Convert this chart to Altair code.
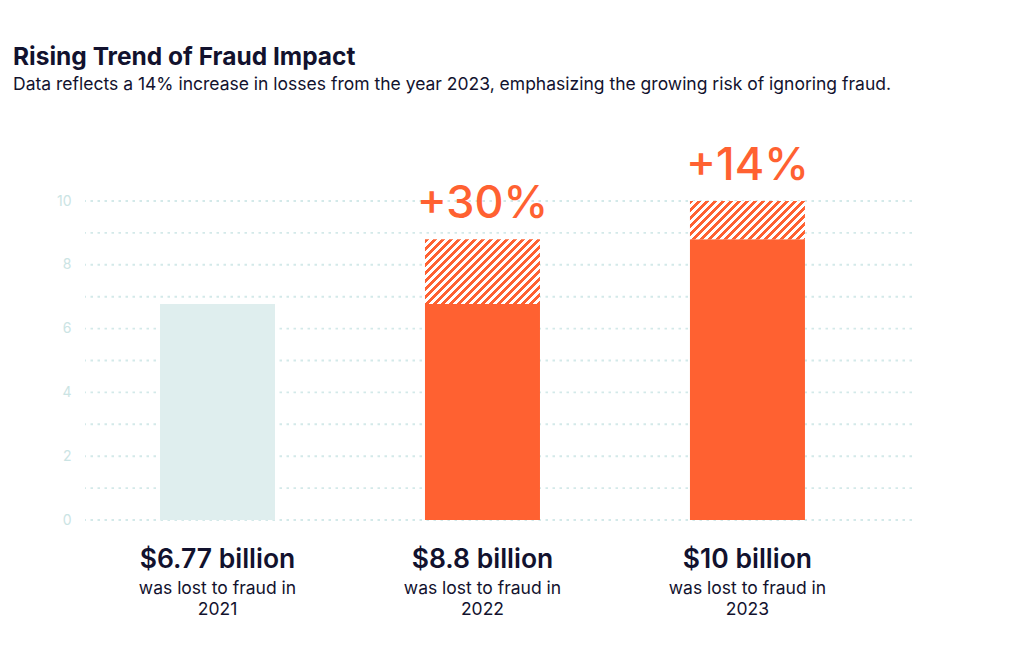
import altair as alt
import pandas as pd

# ---- data ----
years = ["2021", "2022", "2023"]
losses = [6.77, 8.8, 10.0]                      # billions lost to fraud
amount_labels = ["$6.77 billion", "$8.8 billion", "$10 billion"]
caption_lines = ["was lost to fraud in", "was lost to fraud in", "was lost to fraud in"]
growth_labels = ["", "+30%", "+14%"]
y_tick_values = [0, 1, 2, 3, 4, 5, 6, 7, 8, 9, 10]

ORANGE = "#ff6131"
LIGHT = "#dfeeee"
NAVY = "#12122e"
TICK = "#cbe4e4"
GRID = "#d3e9e9"

W, H = 827, 319
Y_MAX = 10
PAD_INNER, PAD_OUTER, ALIGN = 0.566, 0.3435, 0.412

prev = [None] + losses[:-1]
solid_top = [losses[0]] + losses[:-1]
colors = [LIGHT] + [ORANGE] * (len(years) - 1)

df = pd.DataFrame({
    "year": years,
    "loss": losses,
    "prev": prev,
    "solid_top": solid_top,
    "color": colors,
    "amount": amount_labels,
    "caption": caption_lines,
    "growth": growth_labels,
})
grid_df = pd.DataFrame({"v": y_tick_values})

step = W / (len(years) - PAD_INNER + 2 * PAD_OUTER)
band_w = step * (1 - PAD_INNER)
px_per_unit = H / Y_MAX


def stripe_gradient(h_units, period=8.0, frac=0.5):
    """Diagonal '/' stripes as a hard-stop linear gradient for a w x h box."""
    w = band_w
    h = h_units * px_per_unit
    r = h / w
    s = (1 + r) / (1 + r * r)
    p = period / (w + h)
    stops = []
    k = 0
    while k * p < 1:
        a = k * p
        b = min((k + frac) * p, 1.0)
        c = min((k + 1) * p, 1.0)
        stops += [
            alt.GradientStop(offset=a, color=ORANGE),
            alt.GradientStop(offset=b, color=ORANGE),
            alt.GradientStop(offset=b, color="white"),
            alt.GradientStop(offset=c, color="white"),
        ]
        k += 1
    return alt.LinearGradient(gradient="linear", x1=0, y1=0, x2=s, y2=s * r, stops=stops)


x_enc = alt.X(
    "year:N",
    sort=years,
    scale=alt.Scale(paddingInner=PAD_INNER, paddingOuter=PAD_OUTER, align=ALIGN),
    axis=None,
)
y_scale = alt.Scale(domain=[0, Y_MAX], nice=False, zero=True)

grid = alt.Chart(grid_df).mark_rule(
    color=GRID, strokeDash=[2.5, 4.5], strokeWidth=1.9
).encode(
    y=alt.Y(
        "v:Q",
        scale=y_scale,
        title=None,
        axis=alt.Axis(
            values=y_tick_values,
            labelExpr="datum.value % 2 === 0 ? datum.label : ''",
            grid=False,
            domain=False,
            ticks=False,
            tickSize=0,
            labelColor=TICK,
            labelFont="Inter",
            labelFontSize=14,
            labelPadding=14,
        ),
    )
)

base = alt.Chart(df)

solid = base.mark_bar().encode(
    x=x_enc,
    y=alt.Y("solid_top:Q", scale=y_scale),
    color=alt.Color("color:N", scale=None),
)

hatch_layers = []
for i in range(1, len(years)):
    g = stripe_gradient(losses[i] - losses[i - 1])
    layer = base.transform_filter(alt.datum.year == years[i]).mark_bar(color=g).encode(
        x=x_enc,
        y=alt.Y("prev:Q", scale=y_scale),
        y2="loss:Q",
    )
    hatch_layers.append(layer)

growth = base.mark_text(
    dy=-21, baseline="alphabetic", font="Inter", fontSize=45, fontWeight=500, color=ORANGE
).encode(x=x_enc, y=alt.Y("loss:Q", scale=y_scale), text="growth:N")

amount = base.mark_text(
    dy=48, baseline="alphabetic", font="Inter", fontSize=26.5, fontWeight=600, color=NAVY
).encode(x=x_enc, y=alt.datum(0, scale=y_scale), text="amount:N")

caption = base.mark_text(
    dy=74, baseline="alphabetic", font="Inter", fontSize=17.5, fontWeight=400, color=NAVY
).encode(x=x_enc, y=alt.datum(0), text="caption:N")

year_txt = base.mark_text(
    dy=95, baseline="alphabetic", font="Inter", fontSize=17.5, fontWeight=400, color=NAVY
).encode(x=x_enc, y=alt.datum(0), text="year:N")

chart = alt.layer(grid, solid, *hatch_layers, growth, amount, caption, year_txt).properties(
    width=W,
    height=H,
    title=alt.TitleParams(
        text="Rising Trend of Fraud Impact",
        subtitle=["Data reflects a 14% increase in losses from the year 2023, emphasizing the growing risk of ignoring fraud."],
        anchor="start",
        frame="group",
        dx=-72,
        offset=50,
        font="Inter",
        fontSize=24.5,
        fontWeight=700,
        color=NAVY,
        subtitleFont="Inter",
        subtitleFontSize=17.5,
        subtitleColor=NAVY,
        subtitlePadding=5,
    ),
    autosize=alt.AutoSizeParams(type="none"),
    padding={"left": 77, "top": 193, "right": 100, "bottom": 120},
).configure(background="white").configure_view(strokeWidth=0)

chart.save("out.html", embed_options={"renderer": "svg", "actions": False})
